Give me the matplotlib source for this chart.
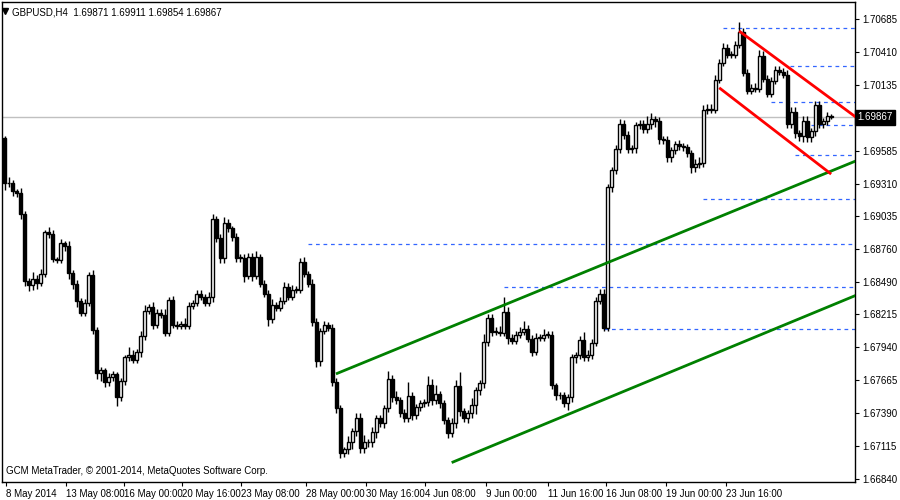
import matplotlib
matplotlib.use("Agg")
import matplotlib.pyplot as plt
import numpy as np

plt.rcParams['font.family'] = ['Liberation Sans', 'DejaVu Sans']

first_open = 1.69688
closes = [
1.69313,1.69313,1.69247,1.69230,1.69055,1.68497,1.68463,1.68513,1.68480,1.68555,
1.68905,1.68888,1.68680,1.68672,1.68813,1.68788,1.68563,1.68472,1.68330,1.68230,
1.68313,1.68547,1.68088,1.67722,1.67747,1.67647,1.67688,1.67713,1.67522,1.67655,
1.67855,1.67880,1.67838,1.67897,1.68038,1.68247,1.68280,1.68130,1.68230,1.68213,
1.68063,1.68338,1.68130,1.68122,1.68138,1.68122,1.68288,1.68313,1.68388,1.68363,
1.68313,1.68363,1.69013,1.68855,1.68688,
1.68980,1.68938,1.68863,1.68688,1.68688,1.68538,1.68697,1.68538,1.68697,1.68472,
1.68388,1.68180,1.68297,1.68272,1.68330,1.68447,1.68363,1.68422,1.68422,1.68655,
1.68555,1.68472,1.68155,1.67822,1.68080,1.68130,1.68105,1.67647,1.67430,1.67055,
1.67088,1.67147,1.67238,1.67347,1.67097,1.67147,1.67147,1.67230,1.67347,1.67305,
1.67430,1.67672,1.67522,1.67497,1.67388,1.67347,1.67530,1.67372,1.67438,1.67472,
1.67480,1.67622,1.67497,
1.67547,1.67472,1.67330,1.67222,1.67305,1.67613,1.67405,1.67347,1.67388,1.67455,
1.67580,1.67638,1.67988,1.68188,1.68072,1.68072,1.68063,1.68238,1.68022,1.67997,
1.68047,1.68072,1.68097,1.68013,1.67905,1.68022,1.68022,1.68047,1.68047,1.67622,
1.67538,1.67538,1.67472,1.67522,1.67855,1.67880,1.68005,1.67855,1.67880,1.67980,
1.68330,1.68388,1.68105,1.69280,1.69422,1.69597,1.69813,1.69713,1.69597,1.69605,
1.69797,1.69813,1.69763,1.69805,
1.69847,1.69830,1.69680,1.69672,1.69530,1.69588,1.69638,1.69622,1.69613,1.69563,
1.69447,1.69472,1.69480,1.69922,1.69938,1.69930,1.70180,1.70322,1.70447,1.70388,
1.70388,1.70472,1.70580,1.70238,1.70088,1.70113,1.70105,1.70380,1.70188,1.70063,
1.70172,1.70263,1.70247,1.70222,1.69813,1.69913,1.69730,1.69705,1.69838,1.69697,
1.69747,1.69972,1.69805,1.69830,1.69872,1.69867]

# wick lengths in pips
up_wick = [
2,5,3,2,4,3,2,6,3,4, 2,4,3,2,3,2,4,2,3,2, 3,2,4,2,3,2,4,3,2,3,
2,6,4,3,4,5,2,4,3,3, 5,2,3,3,2,5,3,2,3,3, 2,4,4,3,3,
5,3,2,3,3,3,3,3,5,2, 3,3,5,2,3,4,3,4,3,3, 4,2,4,3,2,3,2,3,4,3,
2,5,3,4,4,6,3,4,3,3, 3,7,4,5,3,4,12,4,3,3, 3,8,5,
8,3,3,3,4,5,12,3,3,6, 3,3,6,3,3,4,5,12,4,3, 3,4,6,3,3,4,3,5,3,3,
2,3,3,3,3,2,3,6,4,3, 3,4,4,3,3,4,4,3,4,3, 3,3,3,7,
5,3,4,3,4,3,3,4,3,3, 3,4,5,5,4,4,4,3,4,3, 3,3,8,3,3,3,4,5,4,3,
3,3,3,3,4,4,4,3,4,4, 3,3,3,3,4,2]
dn_wick = [
6,3,4,3,4,4,5,4,5,3, 3,3,3,3,3,4,5,4,5,3, 3,3,4,5,6,4,3,3,7,3,
3,3,3,3,4,4,3,4,3,3, 3,3,3,3,3,3,3,3,3,3, 3,3,4,3,4,
4,3,3,3,3,5,3,4,3,3, 3,6,4,3,3,3,3,3,3,3, 3,3,4,5,4,3,3,3,4,4,
3,4,6,4,4,4,4,4,5,3, 4,3,4,3,3,3,3,4,3,3, 3,3,4,
3,4,3,4,3,4,4,3,4,4, 7,4,4,4,4,3,3,3,5,3, 3,3,3,3,4,3,3,3,3,3,
4,3,3,6,4,5,4,3,3,4, 3,3,3,3,4,3,3,3,3,3, 4,3,3,3,
4,5,4,3,4,4,3,3,3,3, 5,4,3,3,3,3,3,3,3,3, 3,3,3,3,3,3,3,3,3,3,
3,3,3,3,4,4,4,4,5,4, 4,4,3,3,3,2]

price_ticks = [1.70685,1.70410,1.70135,1.69585,1.69310,1.69035,1.68760,1.68490,
               1.68215,1.67940,1.67665,1.67390,1.67115,1.66840]
current = 1.69867
date_labels = ["8 May 2014","13 May 08:00","16 May 00:00","20 May 16:00","23 May 08:00",
               "28 May 00:00","30 May 16:00","4 Jun 08:00","9 Jun 00:00","11 Jun 16:00",
               "16 Jun 08:00","19 Jun 00:00","23 Jun 16:00"]
date_pos = [0.25,15.25,29.75,44.25,59.25,75.5,90.5,105.25,120.5,136,150.5,165.75,180.75]

# trend lines: (i0, p0, i1, p1, color)
trend_lines = [
    (83.25,1.67722,213,1.69497,"#008000"),
    (112.25,1.66980,213,1.68372,"#008000"),
    (184.25,1.70580,213,1.69872,"#ff0000"),
    (179.25,1.70105,206.75,1.69397,"#ff0000"),
]
levels = [(76,1.68805),(125,1.68447),(150,1.68097),(175,1.69180),(180,1.70613),
          (196.75,1.70297),(192,1.69997),(202,1.69797),(198,1.69547)]

fig = plt.figure(figsize=(9,5), dpi=100)
ax = fig.add_axes([2/900, 18/500, 853/900, 480/500])
n = len(closes)
opens = [first_open] + closes[:-1]
for i in range(n):
    o, c = opens[i], closes[i]
    hi = max(o,c) + up_wick[i]*1e-4
    lo = min(o,c) - dn_wick[i]*1e-4
    ax.vlines(i, lo, hi, color="black", lw=1, zorder=2)
    b = max(abs(c-o), 0.00004)
    ax.bar(i, b, bottom=min(o,c), width=0.75,
           color="white" if c >= o else "black", edgecolor="black", lw=1, zorder=3)

ax.axhline(current, color="#c0c0c0", lw=1, zorder=1)
for i0, p in levels:
    ax.plot([i0, 214], [p, p], color="#3366ff", lw=0.9, ls=(0,(3,3)), zorder=1)
for i0,p0,i1,p1,col in trend_lines:
    ax.plot([i0,i1],[p0,p1], color=col, lw=2, zorder=4)

ax.set_xlim(-0.75, 213)
ax.set_ylim(1.66813, 1.7083)
ax.yaxis.tick_right()
ax.set_yticks(price_ticks)
ax.set_yticklabels([f"{p:.5f}" for p in price_ticks], fontsize=7)
ax.set_xticks(date_pos)
ax.set_xticklabels(date_labels, fontsize=7, ha="left")
ax.tick_params(axis="both", length=3, width=0.8, pad=2)
for s in ax.spines.values():
    s.set_linewidth(1)
ax.text(213.6, current, f"{current:.5f}", transform=ax.transData, fontsize=7,
        color="white", va="center", ha="left",
        bbox=dict(boxstyle="square,pad=0.25", fc="black", ec="black"), clip_on=False)
ax.text(0.012, 0.988, "GBPUSD,H4  1.69871 1.69911 1.69854 1.69867", transform=ax.transAxes,
        fontsize=7, va="top", ha="left")
ax.plot([0.004], [0.982], marker="v", color="black", ms=4, transform=ax.transAxes, clip_on=False)
ax.text(0.005, 0.012, "GCM MetaTrader, © 2001-2014, MetaQuotes Software Corp.",
        transform=ax.transAxes, fontsize=7, va="bottom", ha="left")
fig.savefig("out.png", dpi=100)
